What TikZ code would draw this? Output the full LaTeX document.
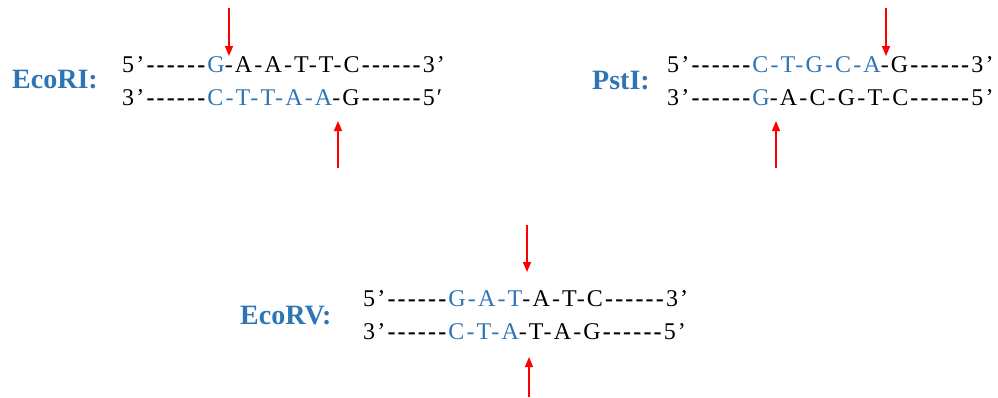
\documentclass[tikz,border=0pt]{standalone}
\usepackage{fontspec}
\usetikzlibrary{arrows.meta}
\setmainfont{Liberation Serif}
\newfontfamily\seqfont{Liberation Serif}[Ligatures=TeXOff, LetterSpace=9]
\newfontfamily\labfont{Liberation Serif}[Ligatures=TeXOff]
\definecolor{seqblue}{HTML}{2E75B6}
\newcommand\bl[1]{\textcolor{seqblue}{#1}}
\newcommand\dashrun{\textbf{------}}
\tikzset{
  seq/.style={anchor=base west, inner sep=0pt, font=\seqfont\fontsize{24}{28}\selectfont},
  lab/.style={anchor=base west, inner sep=0pt, text=seqblue, font=\labfont\fontsize{28}{32}\selectfont\bfseries},
  cut/.style={red, line width=1.3pt, -{Triangle[width=8pt,length=10pt]}}
}
\begin{document}
\begin{tikzpicture}[x=1pt,y=-1pt]
\useasboundingbox (0,0) rectangle (998,397);
% EcoRI
\node[lab] (l1) at (12,88) {EcoRI:};
\node[seq] (a1) at (122,72) {5’\dashrun\bl{G}-A-A-T-T-C\dashrun3’};
\node[seq] (a2) at (122,105) {3’\dashrun\bl{C-T-T-A-A}-G\dashrun5′};
\coordinate (a1s) at (229,8);
\coordinate (a1e) at (229,56);
\coordinate (a2s) at (338,168);
\coordinate (a2e) at (338,121);
\draw[cut] (a1s) -- (a1e);
\draw[cut] (a2s) -- (a2e);
% PstI
\node[lab] (l2) at (592,89) {PstI:};
\node[seq] (b1) at (667,72) {5’\dashrun\bl{C-T-G-C-A}-G\dashrun3’};
\node[seq] (b2) at (667,105) {3’\dashrun\bl{G}-A-C-G-T-C\dashrun5’};
\coordinate (b1s) at (886,8);
\coordinate (b1e) at (886,56);
\coordinate (b2s) at (776,168);
\coordinate (b2e) at (776,121);
\draw[cut] (b1s) -- (b1e);
\draw[cut] (b2s) -- (b2e);
% EcoRV
\node[lab] (l3) at (240,324) {EcoRV:};
\node[seq] (c1) at (363,306) {5’\dashrun\bl{G-A-T}-A-T-C\dashrun3’};
\node[seq] (c2) at (363,339) {3’\dashrun\bl{C-T-A}-T-A-G\dashrun5’};
\coordinate (c1s) at (527,225);
\coordinate (c1e) at (527,272);
\coordinate (c2s) at (529,397);
\coordinate (c2e) at (529,357);
\draw[cut] (c1s) -- (c1e);
\draw[cut] (c2s) -- (c2e);
\end{tikzpicture}
\end{document}
